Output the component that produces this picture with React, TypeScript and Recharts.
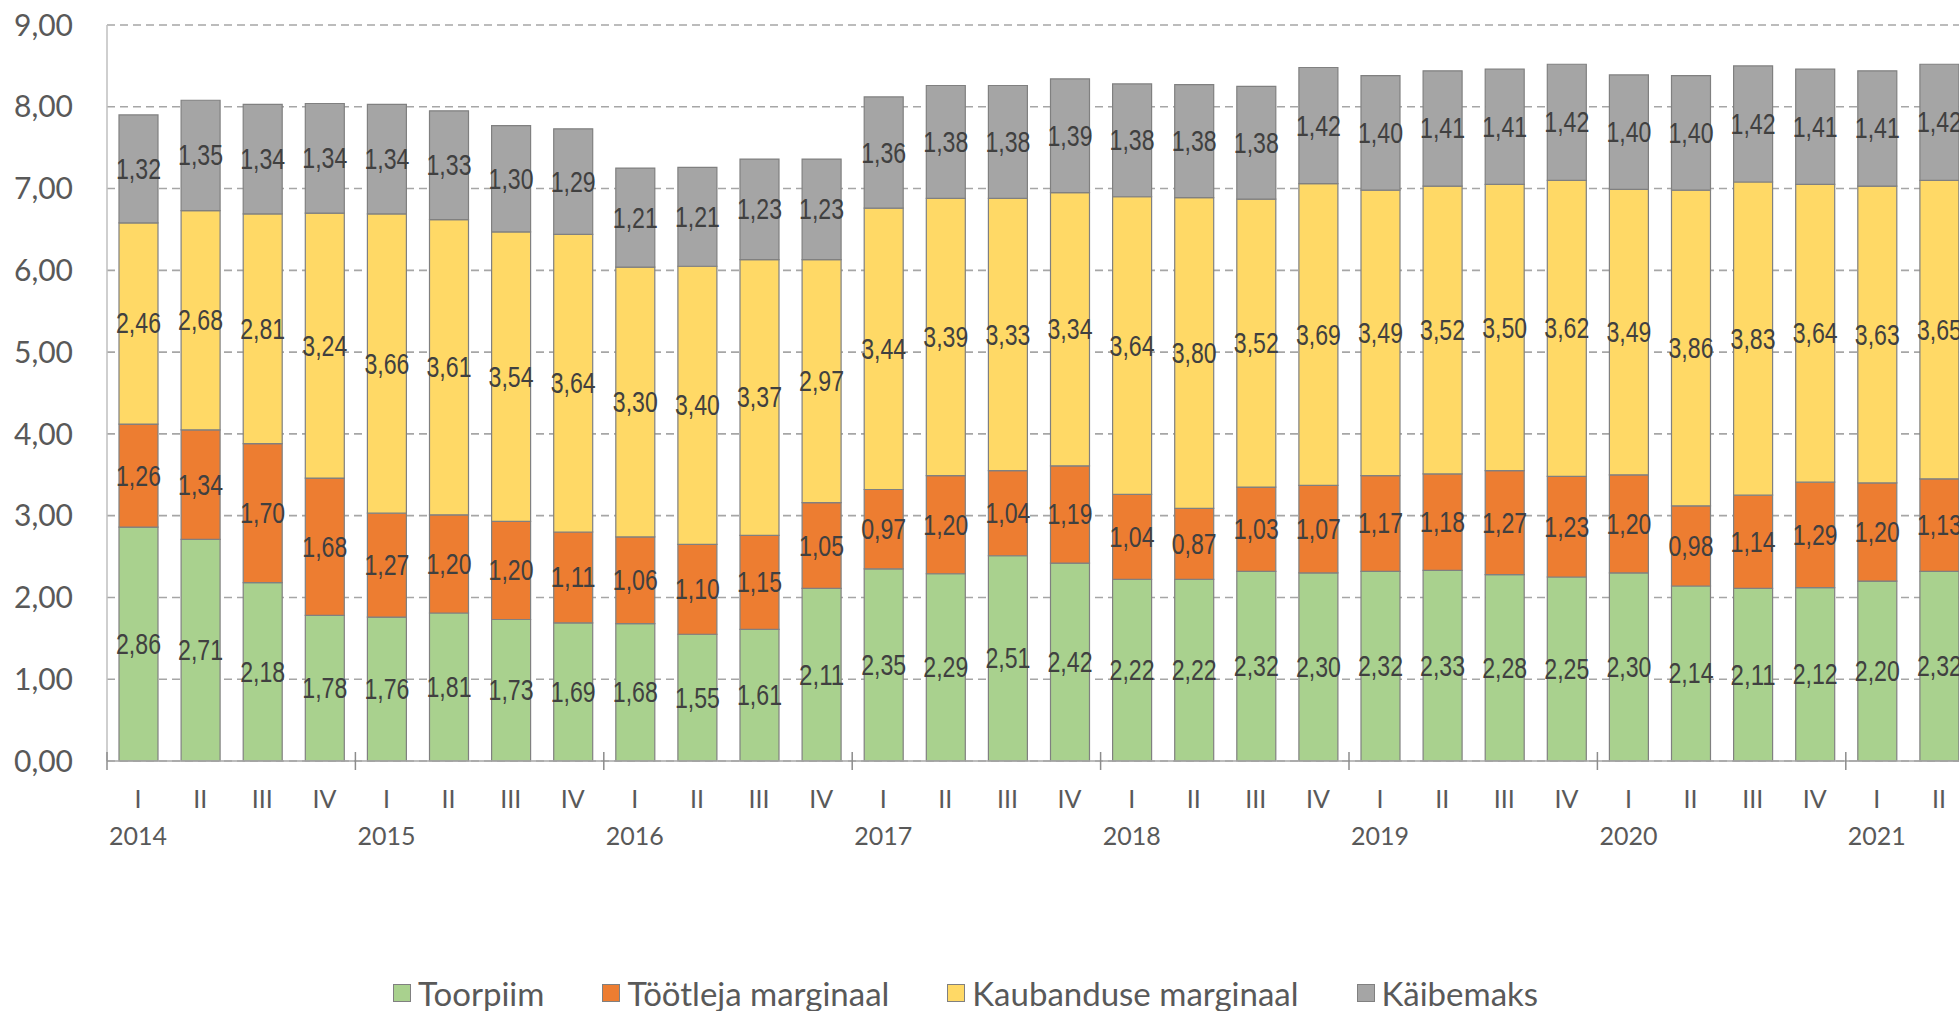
import { BarChart, Bar, XAxis, YAxis, CartesianGrid, LabelList } from 'recharts';

const quarterLabels = [
  'I', 'II', 'III', 'IV', 'I', 'II', 'III', 'IV', 'I', 'II', 'III', 'IV',
  'I', 'II', 'III', 'IV', 'I', 'II', 'III', 'IV', 'I', 'II', 'III', 'IV',
  'I', 'II', 'III', 'IV', 'I', 'II',
];
const yearLabels = [
  '2014', '', '', '', '2015', '', '', '', '2016', '', '', '',
  '2017', '', '', '', '2018', '', '', '', '2019', '', '', '',
  '2020', '', '', '', '2021', '',
];

const toorpiim = [
  2.86, 2.71, 2.18, 1.78, 1.76, 1.81, 1.73, 1.69, 1.68, 1.55, 1.61, 2.11,
  2.35, 2.29, 2.51, 2.42, 2.22, 2.22, 2.32, 2.30, 2.32, 2.33, 2.28, 2.25,
  2.30, 2.14, 2.11, 2.12, 2.20, 2.32,
];
const tootleja = [
  1.26, 1.34, 1.70, 1.68, 1.27, 1.20, 1.20, 1.11, 1.06, 1.10, 1.15, 1.05,
  0.97, 1.20, 1.04, 1.19, 1.04, 0.87, 1.03, 1.07, 1.17, 1.18, 1.27, 1.23,
  1.20, 0.98, 1.14, 1.29, 1.20, 1.13,
];
const kaubandus = [
  2.46, 2.68, 2.81, 3.24, 3.66, 3.61, 3.54, 3.64, 3.30, 3.40, 3.37, 2.97,
  3.44, 3.39, 3.33, 3.34, 3.64, 3.80, 3.52, 3.69, 3.49, 3.52, 3.50, 3.62,
  3.49, 3.86, 3.83, 3.64, 3.63, 3.65,
];
const kaibemaks = [
  1.32, 1.35, 1.34, 1.34, 1.34, 1.33, 1.30, 1.29, 1.21, 1.21, 1.23, 1.23,
  1.36, 1.38, 1.38, 1.39, 1.38, 1.38, 1.38, 1.42, 1.40, 1.41, 1.41, 1.42,
  1.40, 1.40, 1.42, 1.41, 1.41, 1.42,
];

const yTicks = [0, 1, 2, 3, 4, 5, 6, 7, 8, 9];

const series = [
  { key: 'toorpiim', name: 'Toorpiim', color: '#A9D18E' },
  { key: 'tootleja', name: 'Töötleja marginaal', color: '#ED7D31' },
  { key: 'kaubandus', name: 'Kaubanduse marginaal', color: '#FFD966' },
  { key: 'kaibemaks', name: 'Käibemaks', color: '#A5A5A5' },
];

const data = quarterLabels.map((q, i) => ({
  id: i,
  q,
  year: yearLabels[i],
  toorpiim: toorpiim[i],
  tootleja: tootleja[i],
  kaubandus: kaubandus[i],
  kaibemaks: kaibemaks[i],
}));

const CHART_W = 1990;
const CHART_H = 1011;
const Y_W = 107;
const RIGHT = 20;
const HALF_BAND = (CHART_W - Y_W - RIGHT) / data.length / 2;

const fmt = (v: number) => v.toFixed(2).replace('.', ',');

const axisFont = 'Lato, "Open Sans", sans-serif';

// Excel uses a narrow font for the value labels; squeeze Liberation Sans to match
const renderValue = (props: any) => {
  const { x, y, width, height, value } = props;
  return (
    <text
      x={Number(x) + Number(width) / 2}
      y={Number(y) + Number(height) / 2}
      textAnchor="middle"
      dominantBaseline="central"
      fontFamily='"Liberation Sans Narrow", "Liberation Sans", sans-serif'
      fontSize={29}
      fill="#404040"
      textLength={45}
      lengthAdjust="spacingAndGlyphs"
    >
      {fmt(Number(value))}
    </text>
  );
};

const CategoryTick = (props: any) => {
  const { x, y, payload } = props;
  const row = data[payload.index] ?? data.find((d) => d.id === payload.value);
  if (!row) return null;
  return (
    <g>
      {row.q === 'I' && (
        <line x1={x - HALF_BAND} x2={x - HALF_BAND} y1={y - 9} y2={y + 9} stroke="#8c8c8c" strokeWidth={1.5} />
      )}
      <text x={x} y={y + 37} textAnchor="middle" dominantBaseline="central" fontFamily={axisFont} fontSize={25} fill="#595959">
        {row.q}
      </text>
      {row.year && (
        <text x={x} y={y + 74} textAnchor="middle" dominantBaseline="central" fontFamily={axisFont} fontSize={25} fill="#595959">
          {row.year}
        </text>
      )}
    </g>
  );
};

export default function App() {
  return (
    <div
      style={{
        position: 'fixed',
        left: 0,
        top: 0,
        width: 1959,
        height: 1011,
        overflow: 'hidden',
        background: '#fff',
        fontFamily: axisFont,
      }}
    >
      <BarChart
        width={CHART_W}
        height={CHART_H}
        data={data}
        margin={{ top: 25, right: RIGHT, left: 0, bottom: 0 }}
      >
        <CartesianGrid
          vertical={false}
          stroke="#a6a6a6"
          strokeWidth={1.6}
          strokeDasharray="8 5"
        />
        <XAxis
          dataKey="id"
          interval={0}
          height={250}
          tickLine={false}
          tickSize={0}
          tickMargin={0}
          axisLine={{ stroke: '#a6a6a6', strokeWidth: 1.5 }}
          tick={<CategoryTick />}
        />
        <YAxis
          width={Y_W}
          domain={[0, 9]}
          ticks={yTicks}
          interval={0}
          tickLine={false}
          tickSize={0}
          tickMargin={34}
          axisLine={{ stroke: '#bfbfbf', strokeWidth: 1.5 }}
          tickFormatter={(v) => fmt(Number(v))}
          tick={{ fontSize: 30, fill: '#595959', fontFamily: axisFont }}
        />
        {series.map((s) => (
          <Bar
            key={s.key}
            dataKey={s.key}
            name={s.name}
            stackId="a"
            fill={s.color}
            stroke="#808080"
            strokeWidth={1.2}
            barSize={39}
            isAnimationActive={false}
          >
            <LabelList dataKey={s.key} content={renderValue} />
          </Bar>
        ))}
      </BarChart>
      <div
        style={{
          position: 'absolute',
          left: 393,
          top: 974,
          height: 38,
          display: 'flex',
          alignItems: 'center',
          gap: 58,
          fontSize: 33,
          color: '#595959',
          whiteSpace: 'nowrap',
        }}
      >
        {series.map((s) => (
          <div key={s.key} style={{ display: 'flex', alignItems: 'center', gap: 7 }}>
            <span
              style={{
                display: 'inline-block',
                width: 18,
                height: 18,
                background: s.color,
                border: '1.5px solid #808080',
                boxSizing: 'border-box',
              }}
            />
            <span>{s.name}</span>
          </div>
        ))}
      </div>
    </div>
  );
}
